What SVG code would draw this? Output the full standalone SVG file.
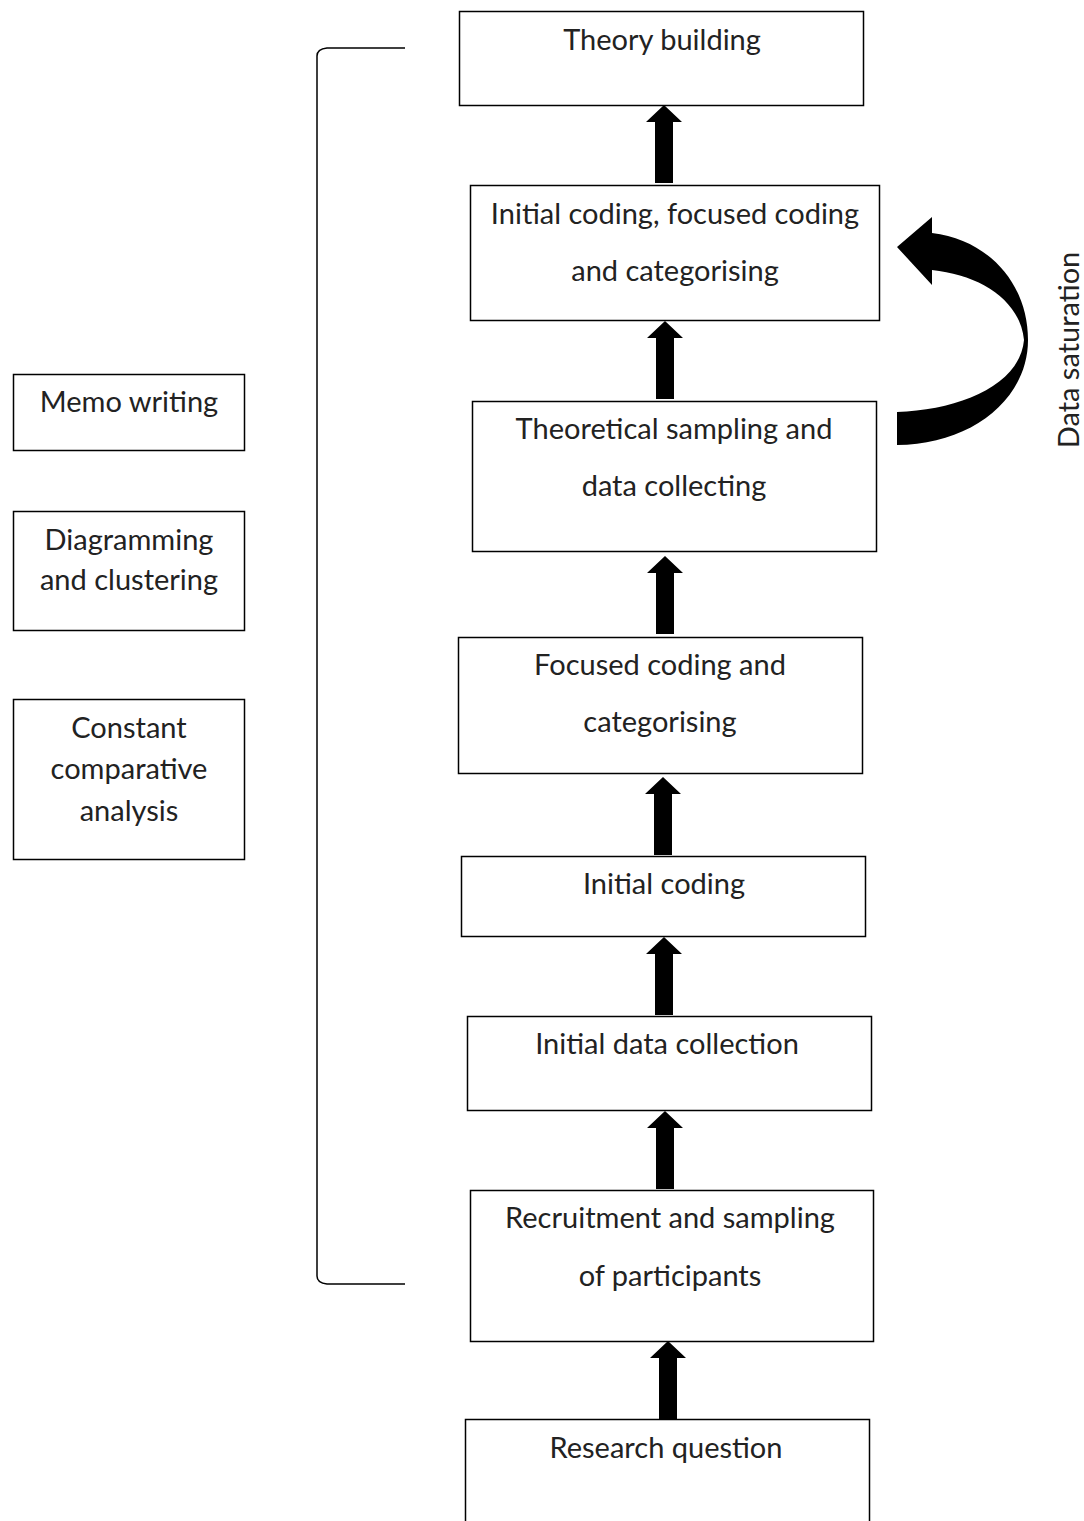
<svg xmlns="http://www.w3.org/2000/svg" width="1084" height="1521" viewBox="0 0 1084 1521">
  <style>
    .box { fill: #ffffff; stroke: #000000; stroke-width: 1.5; }
    .lbl { font-family: Lato, "Open Sans", "Liberation Sans", sans-serif; font-size: 29px; fill: #222222; text-anchor: middle; }
    .bracket { fill: none; stroke: #000000; stroke-width: 1.5; }
    .blk { fill: #000000; }
  </style>
  <defs>
    <!-- upward block arrow, tip at origin, 78px long -->
    <path id="up" d="M0,0 L18,17 L9,17 L9,78 L-9,78 L-9,17 L-18,17 Z"/>
  </defs>
  <rect width="1084" height="1521" fill="#ffffff"/>

  <!-- main flow -->
  <g id="theory-building">
    <rect class="box" x="459.5" y="11.5" width="404" height="94"/>
    <text class="lbl" x="662" y="50">Theory building</text>
  </g>
  <g id="coding-categorising">
    <rect class="box" x="470.5" y="185.5" width="409" height="135"/>
    <text class="lbl" x="675" y="224">Initial coding, focused coding</text>
    <text class="lbl" x="675" y="281">and categorising</text>
  </g>
  <g id="theoretical-sampling">
    <rect class="box" x="472.5" y="401.5" width="404" height="150"/>
    <text class="lbl" x="674" y="439">Theoretical sampling and</text>
    <text class="lbl" x="674" y="496">data collecting</text>
  </g>
  <g id="focused-coding">
    <rect class="box" x="458.5" y="637.5" width="404" height="136"/>
    <text class="lbl" x="660" y="675">Focused coding and</text>
    <text class="lbl" x="660" y="732">categorising</text>
  </g>
  <g id="initial-coding">
    <rect class="box" x="461.5" y="856.5" width="404" height="80"/>
    <text class="lbl" x="664" y="894">Initial coding</text>
  </g>
  <g id="initial-data-collection">
    <rect class="box" x="467.5" y="1016.5" width="404" height="94"/>
    <text class="lbl" x="667" y="1054">Initial data collection</text>
  </g>
  <g id="recruitment">
    <rect class="box" x="470.5" y="1190.5" width="403" height="151"/>
    <text class="lbl" x="670" y="1228">Recruitment and sampling</text>
    <text class="lbl" x="670" y="1286">of participants</text>
  </g>
  <g id="research-question">
    <rect class="box" x="465.5" y="1419.5" width="404" height="110"/>
    <text class="lbl" x="666" y="1458">Research question</text>
  </g>

  <!-- side activities -->
  <g id="memo-writing">
    <rect class="box" x="13.5" y="374.5" width="231" height="76"/>
    <text class="lbl" x="129" y="412">Memo writing</text>
  </g>
  <g id="diagramming">
    <rect class="box" x="13.5" y="511.5" width="231" height="119"/>
    <text class="lbl" x="129" y="550">Diagramming</text>
    <text class="lbl" x="129" y="590">and clustering</text>
  </g>
  <g id="constant-comparative">
    <rect class="box" x="13.5" y="699.5" width="231" height="160"/>
    <text class="lbl" x="129" y="738">Constant</text>
    <text class="lbl" x="129" y="779">comparative</text>
    <text class="lbl" x="129" y="821">analysis</text>
  </g>

  <!-- connectors -->
  <g id="connectors">
    <use href="#up" class="blk" x="664" y="105"/>
    <use href="#up" class="blk" x="665" y="321"/>
    <use href="#up" class="blk" x="665" y="556"/>
    <use href="#up" class="blk" x="663" y="777"/>
    <use href="#up" class="blk" x="664" y="937"/>
    <use href="#up" class="blk" x="665" y="1111"/>
    <use href="#up" class="blk" x="668" y="1341"/>
    <!-- curved feedback arrow -->
    <path class="blk" d="M897,412 C960,410 1020,385 1024,340 C1020,300 980,275 932,270 L932,285 L897,247 L932,217 L932,233 C990,240 1028,285 1028,340 C1028,400 970,445 897,445 Z"/>
    <!-- bracket spanning the process -->
    <path class="bracket" d="M405,48 L327,48 Q317,49 317,56 L317,1276 Q317,1283 327,1284 L405,1284"/>
  </g>

  <text class="lbl" transform="translate(1079,350) rotate(-90)">Data saturation</text>
</svg>
